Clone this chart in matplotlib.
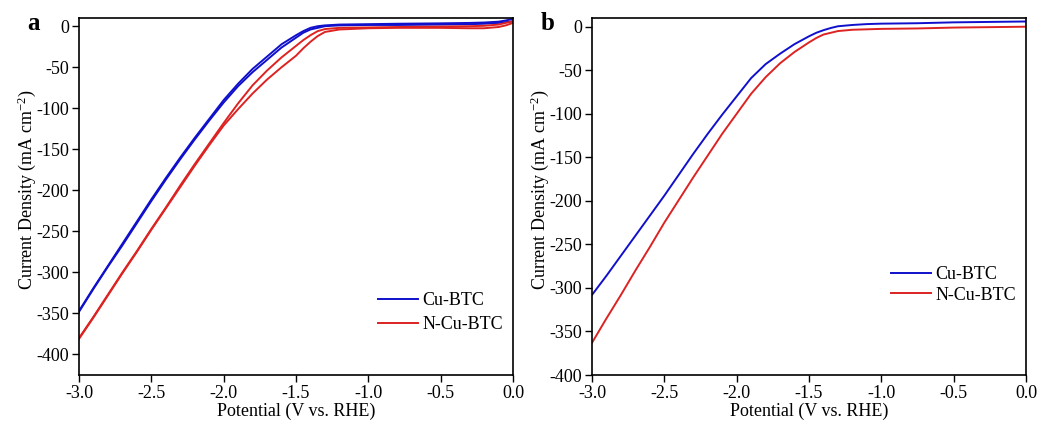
import matplotlib
matplotlib.use("Agg")
import matplotlib.pyplot as plt

plt.rcParams['font.family'] = ['Liberation Serif', 'DejaVu Serif']
plt.rcParams['mathtext.fontset'] = 'custom'
plt.rcParams['mathtext.rm'] = 'Liberation Serif'
plt.rcParams['mathtext.it'] = 'Liberation Serif:italic'

# ---------------- Panel a (CV, two branches per sample) ----------------
Va = [0.0, -0.05, -0.1, -0.2, -0.3, -0.5, -0.8, -1.0, -1.2, -1.3, -1.35, -1.4, -1.45,
      -1.5, -1.6, -1.7, -1.8, -1.9, -2.0, -2.1, -2.2, -2.3, -2.4, -2.5, -2.6, -2.7,
      -2.8, -2.9, -3.0]
cu_a1 = [9, 7, 5.5, 4.5, 4, 3.5, 3, 2.5, 2, 1, 0, -2, -6, -11, -22, -37, -52, -70, -90,
         -113, -136, -160, -185, -211, -238, -265, -292, -319, -347]
cu_a2 = [6, 5, 4, 3, 2.5, 2, 1.5, 1.5, 1, 0, -2, -4, -8, -14, -26, -41, -56, -73, -93,
         -115, -138, -162, -187, -213, -240, -267, -293, -320, -348]
ncu_a1 = [6, 4, 2, 0.5, 0, -0.5, -1, -1.5, -2, -3.5, -6, -11, -17, -24, -38, -54, -72,
          -94, -118, -143, -168, -194, -221, -247, -274, -300, -327, -354, -380]
ncu_a2 = [4, 1, -1, -2.5, -2.5, -2, -2, -2.5, -4, -7, -12, -19, -27, -36, -50, -65, -82,
          -101, -121, -145, -170, -196, -222, -248, -275, -301, -328, -355, -381]

# ---------------- Panel b (LSV) ----------------
Vb = [0.0, -0.25, -0.5, -0.75, -1.0, -1.1, -1.2, -1.3, -1.35, -1.4, -1.45, -1.5, -1.6,
      -1.7, -1.8, -1.9, -2.0, -2.1, -2.2, -2.3, -2.4, -2.5, -2.6, -2.7, -2.8, -2.9, -3.0]
cu_b = [6, 5.5, 5, 4, 3.5, 3, 2, 0.5, -1.5, -4, -7, -11, -20, -31, -43, -59, -80, -101,
        -123, -146, -170, -194, -217, -240, -263, -286, -308]
ncu_b = [0, -0.5, -1, -2, -2.5, -3, -3.5, -5, -7, -9, -13, -18, -29, -42, -58, -77, -100,
         -123, -148, -173, -199, -225, -253, -280, -308, -335, -363]

labels = ["Cu-BTC", "N-Cu-BTC"]
xticks = [-3.0, -2.5, -2.0, -1.5, -1.0, -0.5, 0.0]
yticks = [0, -50, -100, -150, -200, -250, -300, -350, -400]

BLUE = "#1010cc"
RED = "#dd2222"
FS = 13

fig = plt.figure(figsize=(10.47, 4.26), dpi=100)
axa = fig.add_axes([79/1047, 1-375/426, 434/1047, 357/426])
axb = fig.add_axes([592/1047, 1-375/426, 434/1047, 357/426])

la, = axa.plot(Va, cu_a1, color=BLUE, lw=1.4)
axa.plot(Va, cu_a2, color=BLUE, lw=1.4)
lb, = axa.plot(Va, ncu_a1, color=RED, lw=1.4)
axa.plot(Va, ncu_a2, color=RED, lw=1.4)
axa.set_ylim(-425, 10)

l1, = axb.plot(Vb, cu_b, color=BLUE, lw=1.4)
l2, = axb.plot(Vb, ncu_b, color=RED, lw=1.4)
axb.set_ylim(-400, 10)

fig.legend([la, lb], labels, loc="center left", bbox_to_anchor=(378/1047, 1-312.5/426),
           frameon=False, fontsize=FS, handlelength=2.2, handletextpad=0.25,
           labelspacing=0.38, borderaxespad=0, borderpad=0)
fig.legend([l1, l2], labels, loc="center left", bbox_to_anchor=(891/1047, 1-285/426),
           frameon=False, fontsize=FS, handlelength=2.2, handletextpad=0.25,
           labelspacing=0.2, borderaxespad=0, borderpad=0)

for ax in (axa, axb):
    ax.set_xlim(-3.0, 0.0)
    ax.set_xticks(xticks)
    ax.set_xticklabels([f"{t:.1f}" for t in xticks])
    ax.set_yticks(yticks)
    ax.set_yticklabels([str(t) for t in yticks])
    ax.tick_params(direction="out", length=5, width=1, labelsize=FS, pad=2)
    ax.set_xlabel("Potential (V vs. RHE)", fontsize=FS, labelpad=1)
    ax.set_ylabel("Current Density (mA cm$^{-2}$)", fontsize=FS, labelpad=-1)
    ax.yaxis.set_label_coords(ax.yaxis.label.get_position()[0], 0.52) if False else None
    for s in ax.spines.values():
        s.set_linewidth(1.2)

axa.yaxis.label.set_y(0.52)
axb.yaxis.label.set_y(0.52)

fig.text(33/1047, 1-24/426, "a", fontsize=18, fontweight="bold", ha="center", va="center")
fig.text(548/1047, 1-24/426, "b", fontsize=18, fontweight="bold", ha="center", va="center")

fig.savefig("out.png", dpi=100)
